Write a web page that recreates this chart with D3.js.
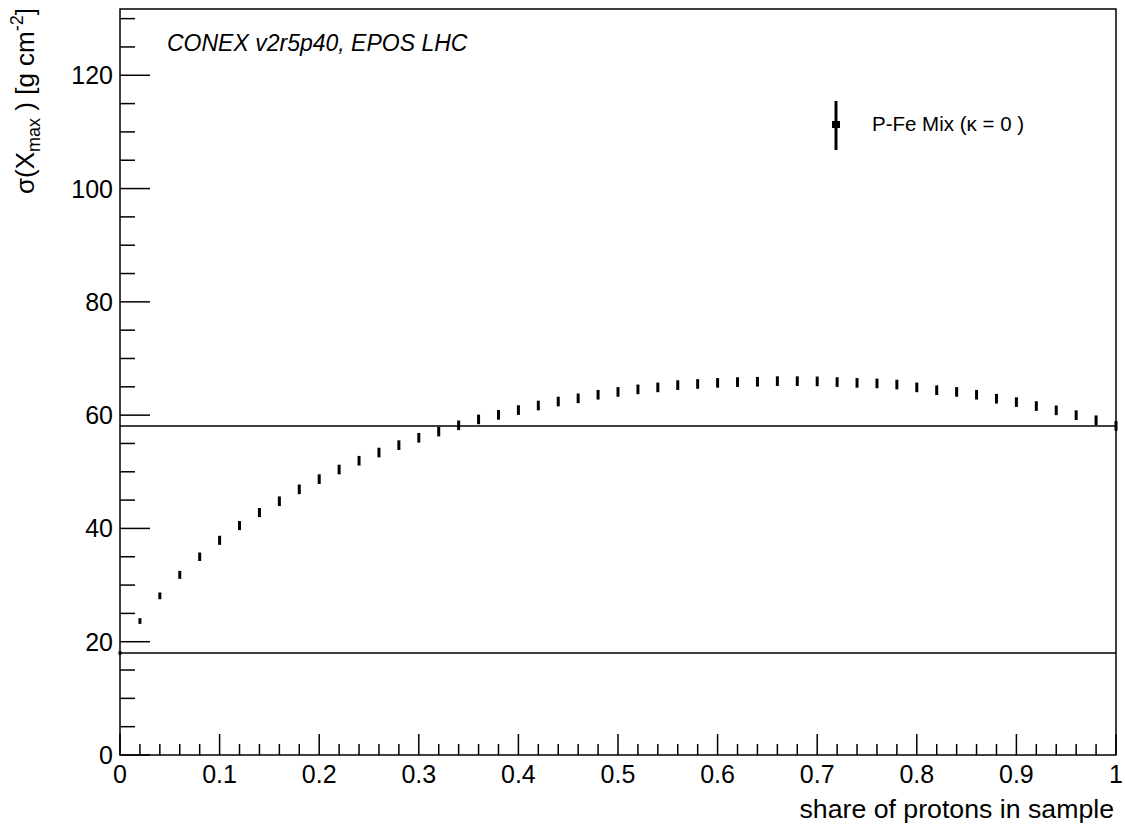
<!DOCTYPE html>
<html><head><meta charset="utf-8">
<script src="https://cdn.jsdelivr.net/npm/d3@7"></script>
<style>body{margin:0;background:#fff;} text{font-family:"Liberation Sans",Arial,sans-serif;}</style>
</head><body>
<svg id="c" width="1125" height="827"></svg>
<script>
const shares = [0,0.02,0.04,0.06,0.08,0.10,0.12,0.14,0.16,0.18,0.20,0.22,0.24,0.26,0.28,0.30,0.32,0.34,0.36,0.38,0.40,0.42,0.44,0.46,0.48,0.50,0.52,0.54,0.56,0.58,0.60,0.62,0.64,0.66,0.68,0.70,0.72,0.74,0.76,0.78,0.80,0.82,0.84,0.86,0.88,0.90,0.92,0.94,0.96,0.98,1.00];
const sigma = [18.0,23.65,28.1,31.8,35.0,37.9,40.5,42.8,44.8,46.9,48.7,50.4,51.95,53.4,54.7,56.0,57.1,58.2,59.25,60.05,60.9,61.7,62.4,62.97,63.6,64.1,64.55,64.9,65.3,65.5,65.7,65.84,65.9,66.0,66.0,65.96,65.84,65.7,65.6,65.4,64.9,64.4,64.1,63.6,62.9,62.3,61.6,60.85,60.0,59.1,58.1];
const sigmaErr = [0.3,0.5,0.6,0.7,0.75,0.8,0.8,0.8,0.85,0.85,0.85,0.85,0.85,0.85,0.85,0.85,0.85,0.85,0.85,0.85,0.85,0.85,0.85,0.85,0.85,0.85,0.85,0.85,0.85,0.85,0.85,0.85,0.85,0.85,0.85,0.85,0.85,0.85,0.85,0.85,0.85,0.85,0.85,0.85,0.85,0.85,0.85,0.85,0.85,0.85,0.85];
const refLines = [18.0, 58.1];
const xTicks = [0,0.1,0.2,0.3,0.4,0.5,0.6,0.7,0.8,0.9,1];
const xTickLabels = ["0","0.1","0.2","0.3","0.4","0.5","0.6","0.7","0.8","0.9","1"];
const yTicks = [0,20,40,60,80,100,120];
const yTickLabels = ["0","20","40","60","80","100","120"];
const legendLabel = "P-Fe Mix (\u03BA = 0 )";
const annotation = "CONEX v2r5p40, EPOS LHC";
const xTitle = "share of protons in sample";

const L=120, R=1116, T=9, B=755;
const x = d3.scaleLinear().domain([0,1]).range([L,R]);
const y = d3.scaleLinear().domain([0,131.7]).range([B,T]);
const svg = d3.select("#c");

// x minor ticks
const xMinor = d3.range(0,51).map(i=>i*0.02).filter(v=>!xTicks.some(t=>Math.abs(t-v)<1e-6));
svg.append("g").selectAll("line").data(xMinor).join("line")
  .attr("x1",d=>x(d)).attr("x2",d=>x(d)).attr("y1",B).attr("y2",B-11)
  .attr("stroke","#000").attr("stroke-width",1.5);
svg.append("g").selectAll("line").data(xTicks).join("line")
  .attr("x1",d=>x(d)).attr("x2",d=>x(d)).attr("y1",B).attr("y2",B-21)
  .attr("stroke","#000").attr("stroke-width",1.5);
svg.append("g").selectAll("text").data(xTicks).join("text")
  .attr("x",d=>x(d)).attr("y",783).attr("text-anchor","middle")
  .attr("font-size",25).text((d,i)=>xTickLabels[i]);

// y ticks
const yMinor = d3.range(0,27).map(i=>i*5).filter(v=>v%20!==0 && v<=131);
svg.append("g").selectAll("line").data(yMinor).join("line")
  .attr("x1",L).attr("x2",L+15).attr("y1",d=>y(d)).attr("y2",d=>y(d))
  .attr("stroke","#000").attr("stroke-width",1.5);
svg.append("g").selectAll("line").data(yTicks).join("line")
  .attr("x1",L).attr("x2",L+30).attr("y1",d=>y(d)).attr("y2",d=>y(d))
  .attr("stroke","#000").attr("stroke-width",1.5);
svg.append("g").selectAll("text").data(yTicks).join("text")
  .attr("x",113).attr("y",d=>y(d)+9).attr("text-anchor","end")
  .attr("font-size",25).text((d,i)=>yTickLabels[i]);

// reference lines
svg.append("g").selectAll("line").data(refLines).join("line")
  .attr("x1",L).attr("x2",R).attr("y1",d=>y(d)).attr("y2",d=>y(d))
  .attr("stroke","#000").attr("stroke-width",1.5);

// frame
svg.append("rect").attr("x",L).attr("y",T).attr("width",R-L).attr("height",B-T)
  .attr("fill","none").attr("stroke","#000").attr("stroke-width",1.5);

// points with error bars
const pts = shares.map((s,i)=>({s, v:sigma[i], e:sigmaErr[i]}));
svg.append("g").selectAll("rect").data(pts).join("rect")
  .attr("x",d=>x(d.s)-1.5).attr("width",3)
  .attr("y",d=>y(d.v+d.e)).attr("height",d=>Math.max(2,y(d.v-d.e)-y(d.v+d.e)))
  .attr("fill","#000");

// annotation
svg.append("text").attr("x",167).attr("y",51).attr("font-size",23)
  .attr("font-style","italic").text(annotation);

// legend
svg.append("line").attr("x1",836).attr("x2",836).attr("y1",101).attr("y2",150)
  .attr("stroke","#000").attr("stroke-width",3);
svg.append("rect").attr("x",832).attr("y",121).attr("width",8).attr("height",7).attr("fill","#000");
svg.append("text").attr("x",872).attr("y",131).attr("font-size",20.5).text(legendLabel);

// x title
svg.append("text").attr("x",1114).attr("y",818).attr("text-anchor","end")
  .attr("font-size",26.7).text(xTitle);

// y title
const yt = svg.append("text").attr("transform","translate(34,8) rotate(-90)")
  .attr("text-anchor","end").attr("font-size",26);
yt.append("tspan").text("\u03C3(X");
yt.append("tspan").attr("font-size",18).attr("dy",6).text("max");
yt.append("tspan").attr("dy",-6).text(" ) [g cm");
yt.append("tspan").attr("font-size",18).attr("dy",-11).text("-2");
yt.append("tspan").attr("dy",11).text("]");
</script>
</body></html>
